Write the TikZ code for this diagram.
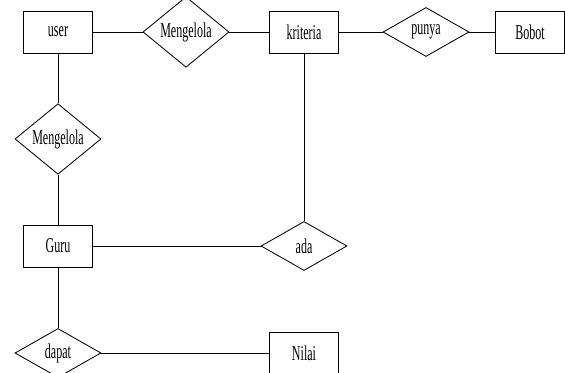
\documentclass[tikz,border=0pt]{standalone}
\usepackage{fontspec}
\setmainfont{Liberation Serif}[FakeStretch=0.57]
\usepackage{tikz}
\usetikzlibrary{shapes.geometric}

\begin{document}
\begin{tikzpicture}[line width=0.6pt,
  font=\fontsize{15}{17}\selectfont,
  entity/.style={shape=rectangle, draw, minimum width=1.725cm, minimum height=1.05cm, inner sep=0pt},
  relation/.style={shape=diamond, draw, minimum width=2.15cm, minimum height=1.225cm, inner sep=0pt}]
  \useasboundingbox (0, 0) rectangle (14.125, 9.3);
  \node (user) at (1.45, 8.5) [entity] {user};
  \node (rel1) at (4.65, 8.5) [relation] {Mengelola};
  \node (kriteria) at (7.6, 8.5) [entity] {kriteria};
  \node (rel2) at (10.65, 8.5) [relation] {punya};
  \node (bobot) at (13.25, 8.5) [entity] {Bobot};
  \node (rel3) at (1.45, 5.825) [relation] {Mengelola};
  \node (guru) at (1.45, 3.15) [entity] {Guru};
  \node (rel4) at (7.6, 3.15) [relation] {ada};
  \node (rel5) at (1.45, 0.475) [relation] {dapat};
  \node (nilai) at (7.6, 0.475) [entity] {Nilai};
  \draw (user) -- (rel1);
  \draw (rel1) -- (kriteria);
  \draw (kriteria) -- (rel2);
  \draw (rel2) -- (bobot);
  \draw (user) -- (rel3);
  \draw (rel3) -- (guru);
  \draw (guru) -- (rel4);
  \draw (kriteria) -- (rel4);
  \draw (guru) -- (rel5);
  \draw (rel5) -- (nilai);
\end{tikzpicture}
\end{document}
